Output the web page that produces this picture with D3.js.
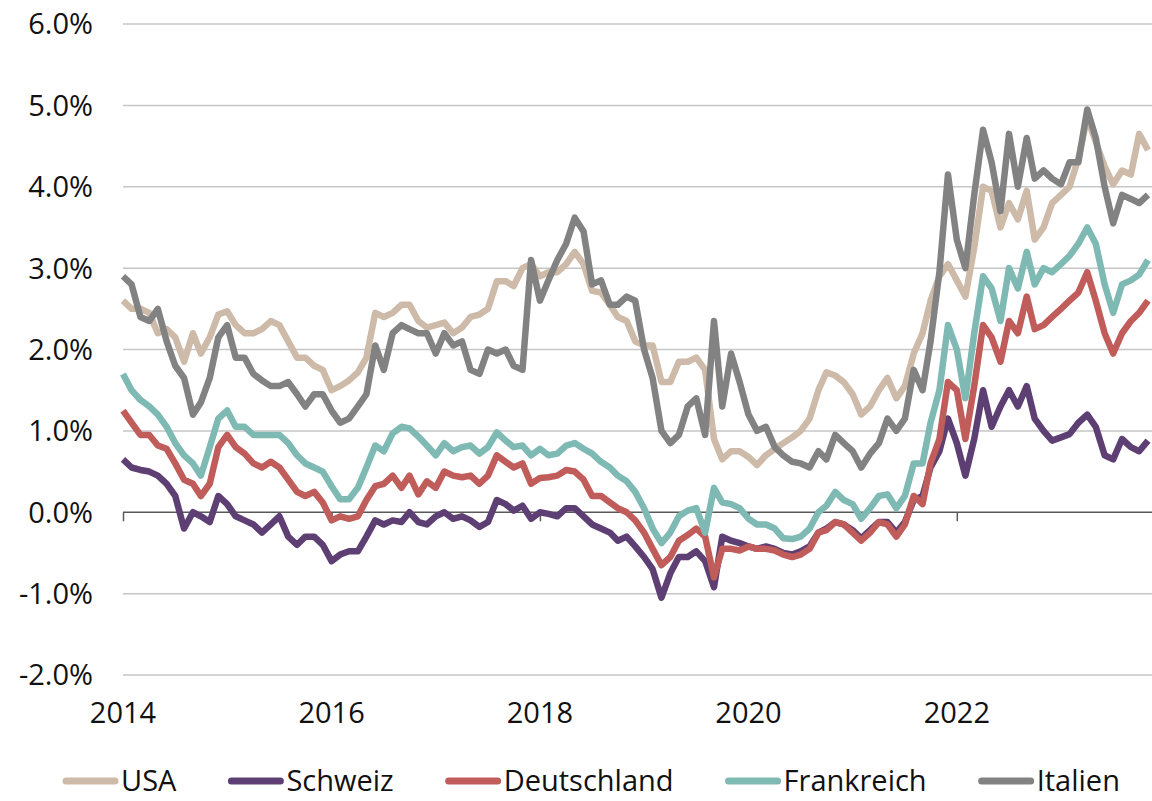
<!DOCTYPE html>
<html>
<head>
<meta charset="utf-8">
<script src="https://cdn.jsdelivr.net/npm/d3@7"></script>
<style>
  body { margin: 0; background: #fff; }
  svg text { font-family: "Open Sans", "Noto Sans", sans-serif; fill: #111; }
</style>
</head>
<body>
<svg id="chart" width="1152" height="801"></svg>
<script>
// monthly observations, June 2014 .. April 2024 (yield in %)
const months = d3.timeMonth.range(new Date(2014, 5, 1), new Date(2024, 4, 1));

const usa = [
  2.6, 2.5, 2.5, 2.45, 2.2, 2.25, 2.15, 1.85, 2.2, 1.95,
  2.15, 2.43, 2.47, 2.3, 2.2, 2.2, 2.25, 2.35, 2.3, 2.1,
  1.9, 1.9, 1.8, 1.75, 1.5, 1.55, 1.62, 1.72, 1.9, 2.45,
  2.4, 2.45, 2.55, 2.55, 2.35, 2.27, 2.3, 2.33, 2.2, 2.27,
  2.4, 2.43, 2.5, 2.84, 2.84, 2.78, 3.0, 3.05, 2.9, 2.95,
  2.95, 3.05, 3.2, 3.05, 2.72, 2.7, 2.55, 2.4, 2.35, 2.1,
  2.05, 2.05, 1.6, 1.6, 1.85, 1.85, 1.9, 1.75, 0.9, 0.65,
  0.75, 0.75, 0.68, 0.58, 0.7, 0.78, 0.85, 0.92, 1.0, 1.15,
  1.5, 1.72, 1.68, 1.6, 1.45, 1.2, 1.3, 1.5, 1.65, 1.4,
  1.55, 1.95, 2.2, 2.6, 2.9, 3.05, 2.85, 2.65, 3.25, 4.0,
  3.95, 3.5, 3.8, 3.6, 3.95, 3.35, 3.5, 3.8, 3.9, 4.0,
  4.35, 4.85, 4.55, 4.25, 4.03, 4.2, 4.15, 4.65, 4.45
];

const schweiz = [
  0.65, 0.55, 0.52, 0.5, 0.45, 0.35, 0.2, -0.2, 0.0, -0.05,
  -0.12, 0.2, 0.1, -0.05, -0.1, -0.15, -0.25, -0.15, -0.05, -0.3,
  -0.4, -0.3, -0.3, -0.4, -0.6, -0.52, -0.48, -0.48, -0.3, -0.1,
  -0.15, -0.1, -0.12, 0.0, -0.12, -0.15, -0.05, 0.0, -0.08, -0.05,
  -0.1, -0.18, -0.12, 0.15, 0.1, 0.02, 0.08, -0.08, 0.0, -0.02,
  -0.05, 0.05, 0.05, -0.05, -0.15, -0.2, -0.25, -0.35, -0.3, -0.42,
  -0.55, -0.7, -1.05, -0.75, -0.55, -0.55, -0.48, -0.6, -0.92, -0.3,
  -0.35, -0.38, -0.42, -0.45, -0.42, -0.45, -0.5, -0.52, -0.48, -0.42,
  -0.25, -0.2, -0.12, -0.15, -0.22, -0.32, -0.22, -0.12, -0.12, -0.25,
  -0.12, 0.15, 0.2, 0.55, 0.75, 1.15, 0.85, 0.45, 0.9, 1.5,
  1.05, 1.3, 1.5, 1.3, 1.55, 1.15, 1.0, 0.88, 0.92, 0.96,
  1.1, 1.2, 1.05, 0.7, 0.65, 0.9, 0.8, 0.75, 0.88
];

const deutschland = [
  1.25, 1.1, 0.95, 0.95, 0.82, 0.78, 0.6, 0.4, 0.35, 0.2,
  0.35, 0.8, 0.95, 0.8, 0.72, 0.6, 0.55, 0.62, 0.55, 0.4,
  0.25, 0.2, 0.25, 0.12, -0.1, -0.05, -0.08, -0.05, 0.15, 0.32,
  0.35, 0.45, 0.3, 0.45, 0.22, 0.38, 0.3, 0.5, 0.45, 0.43,
  0.45, 0.35, 0.45, 0.7, 0.62, 0.55, 0.6, 0.35, 0.42, 0.43,
  0.45, 0.52, 0.5, 0.4, 0.2, 0.2, 0.12, 0.05, 0.0, -0.1,
  -0.25, -0.45, -0.65, -0.55, -0.35, -0.28, -0.2, -0.3, -0.8, -0.45,
  -0.45, -0.47, -0.42, -0.45, -0.45, -0.47, -0.52, -0.55, -0.52, -0.45,
  -0.25, -0.22, -0.12, -0.15, -0.25, -0.35, -0.25, -0.12, -0.15, -0.3,
  -0.15, 0.2, 0.1, 0.6, 0.9, 1.6, 1.5, 0.9, 1.55, 2.3,
  2.15, 1.85, 2.35, 2.2, 2.65, 2.25, 2.3, 2.4, 2.5, 2.6,
  2.7, 2.95, 2.6, 2.2, 1.95, 2.2, 2.35, 2.45, 2.6
];

const frankreich = [
  1.7, 1.5, 1.38, 1.3, 1.2, 1.05, 0.85, 0.7, 0.6, 0.45,
  0.8, 1.15, 1.25, 1.05, 1.05, 0.95, 0.95, 0.95, 0.95, 0.85,
  0.7, 0.6, 0.55, 0.5, 0.32, 0.16, 0.16, 0.3, 0.55, 0.82,
  0.75, 0.97, 1.05, 1.03, 0.93, 0.82, 0.7, 0.85, 0.75, 0.8,
  0.82, 0.72, 0.8, 0.98, 0.88, 0.8, 0.82, 0.7, 0.78, 0.7,
  0.72, 0.82, 0.85, 0.78, 0.72, 0.62, 0.55, 0.45, 0.38, 0.25,
  0.05, -0.2, -0.38, -0.25, -0.05, 0.02, 0.05, -0.25, 0.3, 0.12,
  0.1, 0.05, -0.08, -0.15, -0.15, -0.2, -0.32, -0.33, -0.3, -0.2,
  0.0, 0.08, 0.25, 0.15, 0.1, -0.08, 0.05, 0.2, 0.22, 0.05,
  0.2, 0.6, 0.6, 1.1, 1.5, 2.3, 2.0, 1.4, 2.2, 2.9,
  2.75, 2.35, 3.0, 2.75, 3.2, 2.8, 3.0, 2.95, 3.05, 3.15,
  3.3, 3.5, 3.3, 2.8, 2.45, 2.8, 2.85, 2.92, 3.1
];

const italien = [
  2.9, 2.8, 2.4, 2.35, 2.5, 2.1, 1.8, 1.65, 1.2, 1.35,
  1.65, 2.15, 2.3, 1.9, 1.9, 1.7, 1.62, 1.55, 1.55, 1.6,
  1.45, 1.3, 1.45, 1.45, 1.25, 1.1, 1.15, 1.3, 1.45, 2.05,
  1.75, 2.2, 2.3, 2.25, 2.2, 2.2, 1.95, 2.2, 2.05, 2.1,
  1.75, 1.7, 2.0, 1.95, 2.0, 1.8, 1.75, 3.1, 2.6, 2.85,
  3.1, 3.3, 3.62, 3.45, 2.8, 2.85, 2.55, 2.55, 2.65, 2.6,
  2.0, 1.65, 1.0, 0.85, 0.95, 1.3, 1.4, 0.95, 2.35, 1.3,
  1.95, 1.6, 1.2, 1.0, 1.05, 0.8, 0.7, 0.62, 0.6, 0.55,
  0.75, 0.65, 0.95, 0.85, 0.75, 0.55, 0.72, 0.85, 1.15, 1.0,
  1.15, 1.75, 1.5, 2.1, 2.95, 4.15, 3.35, 3.0, 3.9, 4.7,
  4.3, 3.7, 4.65, 4.0, 4.6, 4.1, 4.2, 4.1, 4.03, 4.3,
  4.3, 4.95, 4.6, 4.0, 3.55, 3.9, 3.85, 3.8, 3.9
];

const seriesNames = ['USA', 'Schweiz', 'Deutschland', 'Frankreich', 'Italien'];
const seriesValues = [usa, schweiz, deutschland, frankreich, italien];
const seriesColors = ['#cdbaa8', '#5e3f73', '#c05c5a', '#7fb9b3', '#828282'];

const yTicks = [-2, -1, 0, 1, 2, 3, 4, 5, 6];
const yearTicks = [2014, 2016, 2018, 2020, 2022];

seriesValues.forEach((s, i) => {
  if (s.length !== months.length) throw new Error(seriesNames[i] + ' has ' + s.length + ' values, expected ' + months.length);
});

const svg = d3.select('#chart');
const plotLeft = 123, plotRight = 1148, plotTop = 24, plotBottom = 675;

const x = d3.scaleTime()
  .domain([months[0], months[months.length - 1]])
  .range([plotLeft, plotRight]);

const y = d3.scaleLinear()
  .domain([-2, 6])
  .range([plotBottom, plotTop]);

const pct = d => (d < 0 ? '-' : '') + Math.abs(d).toFixed(1) + '%';

// horizontal grid
svg.append('g')
  .selectAll('line')
  .data(yTicks.filter(d => d !== 0))
  .join('line')
  .attr('x1', plotLeft)
  .attr('x2', 1152)
  .attr('y1', d => y(d))
  .attr('y2', d => y(d))
  .attr('stroke', '#c6c6c6')
  .attr('stroke-width', 1.5);

// y labels
svg.append('g')
  .selectAll('text')
  .data(yTicks)
  .join('text')
  .attr('x', 93)
  .attr('y', d => y(d))
  .attr('dy', '0.36em')
  .attr('text-anchor', 'end')
  .style('font-size', '29px')
  .text(pct);

// zero line with ticks
const xAxis = d3.axisBottom(x)
  .tickValues(yearTicks.map(yr => new Date(yr, 5, 1)))
  .tickFormat(d3.timeFormat('%Y'))
  .tickSize(9)
  .tickSizeOuter(0);

const axisG = svg.append('g')
  .attr('transform', `translate(0,${y(0)})`)
  .call(xAxis);

axisG.select('.domain')
  .attr('d', `M${plotLeft},0H1152`)
  .attr('stroke', '#595959')
  .attr('stroke-width', 1.5);
axisG.selectAll('.tick line').attr('stroke', '#595959').attr('stroke-width', 1.5);
axisG.selectAll('.tick text').remove();

// year labels at the bottom
svg.append('g')
  .selectAll('text')
  .data(yearTicks)
  .join('text')
  .attr('x', d => x(new Date(d, 5, 1)))
  .attr('y', 713)
  .attr('dy', '0.36em')
  .attr('text-anchor', 'middle')
  .style('font-size', '29px')
  .text(d => d);

// series lines
const line = d3.line()
  .x((d, i) => x(months[i]))
  .y(d => y(d));

svg.append('g')
  .selectAll('path')
  .data(seriesValues)
  .join('path')
  .attr('fill', 'none')
  .attr('stroke', (d, i) => seriesColors[i])
  .attr('stroke-width', 6.5)
  .attr('stroke-linejoin', 'round')
  .attr('d', line);

// legend
const legend = svg.append('g');
let lx = 63;
seriesNames.forEach((name, i) => {
  legend.append('line')
    .attr('x1', lx + 3)
    .attr('x2', lx + 52)
    .attr('y1', 781)
    .attr('y2', 781)
    .attr('stroke', seriesColors[i])
    .attr('stroke-width', 7)
    .attr('stroke-linecap', 'round');
  const t = legend.append('text')
    .attr('x', lx + 58)
    .attr('y', 781)
    .attr('dy', '0.36em')
    .style('font-size', '29px')
    .text(name);
  lx = lx + 58 + t.node().getComputedTextLength() + 52;
});
</script>
</body>
</html>
